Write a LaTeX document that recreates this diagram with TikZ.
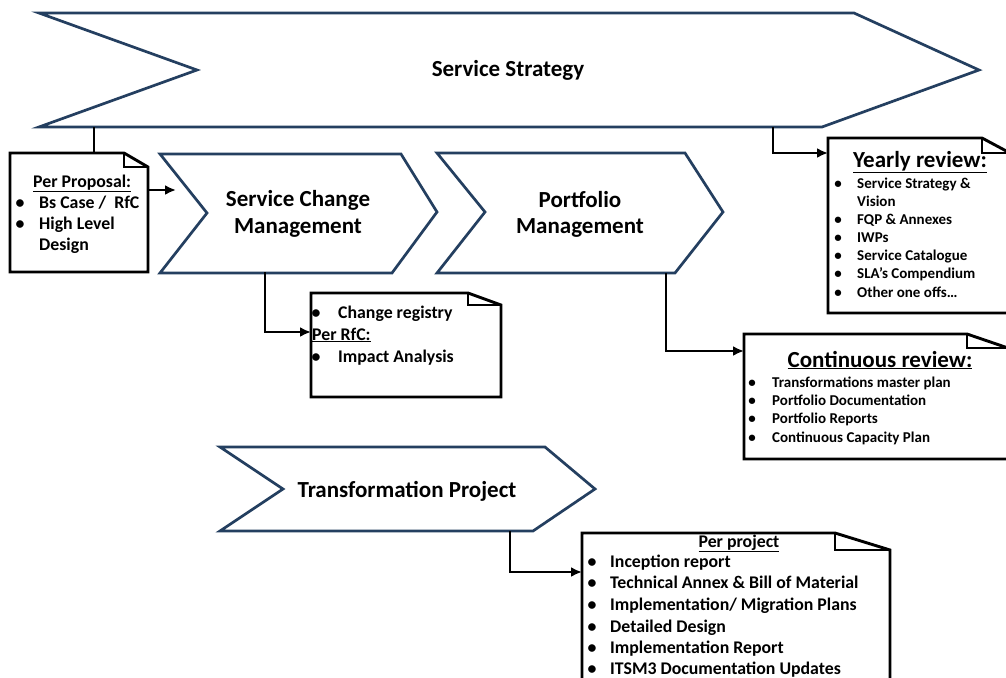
\documentclass[tikz,border=0pt]{standalone}
\usepackage{fontspec}
\setmainfont{Carlito}
\usetikzlibrary{arrows.meta}
\definecolor{chev}{HTML}{243F60}
\tikzset{
  chevron/.style={draw=chev, line width=2.7pt, fill=white, line join=miter},
  docbox/.style={draw=black, line width=2.9pt, fill=white, line join=miter},
  conn/.style={draw=black, line width=2.6pt, line join=miter},
  arr/.style={conn, -{Latex[length=11pt,width=10pt]}},
  big/.style={inner sep=0pt, anchor=base, font=\bfseries\fontsize{23}{27}\selectfont},
  mid/.style={inner sep=0pt, anchor=base west, font=\bfseries\fontsize{17.8}{21}\selectfont},
  midc/.style={mid, anchor=base},
  sml/.style={inner sep=0pt, anchor=base west, font=\bfseries\fontsize{15}{18}\selectfont},
  smlc/.style={sml, anchor=base},
  ttl/.style={inner sep=0pt, anchor=base, font=\bfseries\fontsize{23}{27}\selectfont},
}
\begin{document}
\begin{tikzpicture}[x=1pt,y=-1pt]
\clip (0,0) rectangle (1006,677);
\fill[white] (0,0) rectangle (1006,677);

% ---------- chevrons ----------
\draw[chevron] (39,13) -- (854,13) -- (979,70) -- (822,127) -- (39,127) -- (197,70) -- cycle;
\draw[chevron] (160,154) -- (401,154) -- (437,212) -- (392,273) -- (160,273) -- (207,213) -- cycle;
\draw[chevron] (437,153) -- (685,153) -- (723,212) -- (675,273) -- (437,273) -- (485,212) -- cycle;
\draw[chevron] (220,447) -- (545,447) -- (595,489) -- (533,531) -- (220,531) -- (283,489) -- cycle;

\node[big] (ss) at (508,77) {Service Strategy};
\node[big] (scm1) at (298,206) {Service Change};
\node[big] (scm2) at (298,233) {Management};
\node[big] (pm1) at (580,207) {Portfolio};
\node[big] (pm2) at (580,233) {Management};
\node[big] (tp) at (407,497) {Transformation Project};

% ---------- connector end points ----------
\coordinate (ssA) at (94,127);
\coordinate (ppTop) at (94,153);
\coordinate (ppR) at (148,190);
\coordinate (scmL) at (176,190);
\coordinate (ssB) at (773,127);
\coordinate (yrBend) at (773,153);
\coordinate (yrL) at (828,153);
\coordinate (scmB) at (265,272);
\coordinate (crBend) at (265,332);
\coordinate (crL) at (311,332);
\coordinate (pmB) at (666,273);
\coordinate (cnBend) at (666,351);
\coordinate (cnL) at (744,351);
\coordinate (tpB) at (510,531);
\coordinate (prBend) at (510,572);
\coordinate (prL) at (582,572);

\draw[conn] (ssA) -- (ppTop);
\draw[arr] (ppR) -- (scmL);
\draw[arr] (ssB) -- (yrBend) -- (yrL);
\draw[arr] (scmB) -- (crBend) -- (crL);
\draw[arr] (pmB) -- (cnBend) -- (cnL);
\draw[arr] (tpB) -- (prBend) -- (prL);

% ---------- document boxes ----------
% Per proposal
\draw[docbox] (10,153) -- (124,153) -- (148,167) -- (148,272) -- (10,272) -- cycle;
\draw[docbox, fill=none] (124,153) -- (124,167) -- (148,167);
% Change registry
\draw[docbox] (311,293) -- (468,293) -- (501,305) -- (501,397) -- (311,397) -- cycle;
\draw[docbox, fill=none] (468,293) -- (468,305) -- (501,305);
% Yearly review
\draw[docbox] (828,138) -- (982,138) -- (1010,153) -- (1010,313) -- (828,313) -- cycle;
\draw[docbox, fill=none] (982,138) -- (982,153) -- (1010,153);
% Continuous review
\draw[docbox] (744,334) -- (967,334) -- (1008,348) -- (1008,459) -- (744,459) -- cycle;
\draw[docbox, fill=none] (967,334) -- (967,348) -- (1008,348);
% Per project
\draw[docbox] (582,533) -- (835,533) -- (890,550) -- (890,700) -- (582,700) -- cycle;
\draw[docbox, fill=none] (835,533) -- (835,550) -- (890,550);

% ---------- box texts ----------
\node[mid] (pp0) at (33,187) {\underline{Per Proposal:}};
\node[midc] (ppb1) at (20,208) {\textbullet};
\node[mid] (pp1) at (39,208) {Bs Case /\ \ RfC};
\node[midc] (ppb2) at (20,229) {\textbullet};
\node[mid] (pp2) at (39,229) {High Level};
\node[mid] (pp3) at (39,250) {Design};

\node[midc] (crb1) at (316,318) {\textbullet};
\node[mid] (cr1) at (338,318) {Change registry};
\node[mid] (cr2) at (312,340) {\underline{Per RfC:}};
\node[midc] (crb3) at (316,362) {\textbullet};
\node[mid] (cr3) at (338,362) {Impact Analysis};

\node[ttl] (yr0) at (920,167) {\underline{Yearly review:}};
\foreach \y/\t [count=\i] in {188/Service Strategy \&, 224/FQP \& Annexes, 242/IWPs, 260/Service Catalogue, 278/SLA’s Compendium}{
  \node[smlc] (yrb\i) at (838,\y) {\textbullet};
  \node[sml] (yr\i) at (857,\y) {\t};
}
\node[sml] (yrv) at (857,206) {Vision};
\node[smlc] (yrb6) at (838,297) {\textbullet};
\node[sml] (yr6) at (857,297) {Other one offs\ldots};

\node[ttl] (cn0) at (880,367) {\underline{Continuous review:}};
\foreach \y/\t [count=\i] in {387/Transformations master plan, 405/Portfolio Documentation, 423/Portfolio Reports, 442/Continuous Capacity Plan}{
  \node[smlc] (cnb\i) at (752,\y) {\textbullet};
  \node[sml] (cn\i) at (772,\y) {\t};
}

\node[midc] (pr0) at (739,547) {\underline{Per project}};
\foreach \y/\t [count=\i] in {567/{Inception report}, 588/{Technical Annex \& Bill of Material}, 610/{Implementation/ Migration Plans}, 632/{Detailed Design}, 653/{Implementation Report}, 674/{ITSM3 Documentation Updates}}{
  \node[midc] (prb\i) at (592,\y) {\textbullet};
  \node[mid] (pr\i) at (610,\y) {\t};
}
\end{tikzpicture}
\end{document}
